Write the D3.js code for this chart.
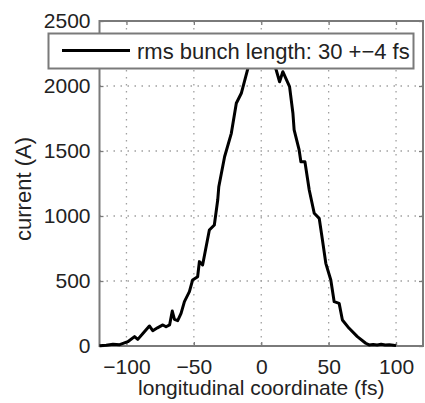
<!DOCTYPE html>
<html>
<head>
<meta charset="utf-8">
<script src="https://cdn.jsdelivr.net/npm/d3@7"></script>
<style>
  body { margin: 0; background: #fff; }
  svg { display: block; font-family: "Liberation Sans", Arial, sans-serif; }
</style>
</head>
<body>
<svg id="chart" width="425" height="403"></svg>
<script>
// longitudinal coordinate (fs) and current (A)
const coord = [-120, -115, -110, -105, -99, -94, -91.6, -86.7, -83, -80.5, -77, -73, -70.6, -68, -66, -64.4, -62,
  -59.5, -57, -53.3, -50.9, -47.2, -45.9, -43.5, -38.5, -34.8, -32.3, -31.5, -27.2, -22.2, -18.5, -14.8, -9.9,
  -7, -4, -1, 2, 5, 8, 11.1, 13.6, 16, 21, 23.5, 24.4, 28.1, 29.4, 32.4, 35.6, 39.3, 43, 45.4, 47.9, 51.6,
  54.1, 57.8, 60.2, 65.2, 71.3, 77.5, 80, 83, 86, 89, 92, 95, 98, 100];
const current = [2, 6, 14, 10, 33, 72, 51, 110, 154, 118, 140, 162, 148, 162, 269, 205, 195,
  251, 341, 418, 508, 533, 649, 623, 892, 931, 1123, 1225, 1456, 1636, 1867, 1944, 2136,
  2250, 2330, 2380, 2350, 2300, 2200, 2123, 2033, 2110, 1995, 1790, 1662, 1508, 1418, 1418, 1200, 1021, 982, 815, 636, 508,
  341, 328, 200, 136, 72, 21, 8, 12, 8, 14, 8, 10, 6, 3];

const xTicks = [-100, -50, 0, 50, 100];
const yTicks = [0, 500, 1000, 1500, 2000, 2500];
const legendLabel = 'rms bunch length: 30 +\u22124 fs';
const xTitle = 'longitudinal coordinate (fs)';
const yTitle = 'current (A)';

const pLeft = 99.5, pRight = 423, pTop = 21, pBottom = 346;

const x = d3.scaleLinear().domain([-120, 120]).range([pLeft, pRight]);
const y = d3.scaleLinear().domain([0, 2500]).range([pBottom, pTop]);

const svg = d3.select('#chart');
const axisColor = '#7a7a7a';
const fmt = d3.format('d');

// dotted grid
svg.append('g')
  .selectAll('line')
  .data(xTicks)
  .join('line')
  .attr('x1', d => x(d)).attr('x2', d => x(d))
  .attr('y1', pTop).attr('y2', pBottom)
  .attr('stroke', '#a0a0a0')
  .attr('stroke-width', 1.3)
  .attr('stroke-dasharray', '1.5,5.5');

svg.append('g')
  .selectAll('line')
  .data(yTicks.slice(1, -1))
  .join('line')
  .attr('x1', pLeft).attr('x2', pRight)
  .attr('y1', d => y(d)).attr('y2', d => y(d))
  .attr('stroke', '#a0a0a0')
  .attr('stroke-width', 1.3)
  .attr('stroke-dasharray', '1.5,5.5');

// axes, ticks pointing inward
const styleAxis = g => {
  g.select('.domain').remove();
  g.selectAll('line').attr('stroke', axisColor).attr('stroke-width', 1.3);
  g.selectAll('text')
    .attr('fill', '#222')
    .style('font-size', '21px')
    .style('font-family', '"Liberation Sans", Arial, sans-serif');
};

svg.append('g')
  .attr('transform', `translate(0,${pBottom})`)
  .call(d3.axisBottom(x).tickValues(xTicks).tickFormat(fmt).tickSizeInner(-4).tickSizeOuter(0).tickPadding(13))
  .call(styleAxis);

svg.append('g')
  .attr('transform', `translate(0,${pTop})`)
  .call(d3.axisTop(x).tickValues(xTicks).tickSizeInner(-4).tickSizeOuter(0).tickFormat(''))
  .call(styleAxis);

svg.append('g')
  .attr('transform', `translate(${pLeft},0)`)
  .call(d3.axisLeft(y).tickValues(yTicks).tickFormat(fmt).tickSizeInner(-4).tickSizeOuter(0).tickPadding(9))
  .call(styleAxis);

svg.append('g')
  .attr('transform', `translate(${pRight},0)`)
  .call(d3.axisRight(y).tickValues(yTicks).tickSizeInner(-4).tickSizeOuter(0).tickFormat(''))
  .call(styleAxis);

// plot box
svg.append('rect')
  .attr('x', pLeft).attr('y', pTop)
  .attr('width', pRight - pLeft).attr('height', pBottom - pTop)
  .attr('fill', 'none')
  .attr('stroke', axisColor)
  .attr('stroke-width', 2);

// current profile
const points = coord.map((c, i) => [c, current[i]]);
svg.append('path')
  .datum(points)
  .attr('fill', 'none')
  .attr('stroke', '#000')
  .attr('stroke-width', 3)
  .attr('stroke-linejoin', 'round')
  .attr('d', d3.line().x(d => x(d[0])).y(d => y(d[1])));

// legend
const legend = svg.append('g');
legend.append('rect')
  .attr('x', 48.5).attr('y', 33.5)
  .attr('width', 365).attr('height', 35)
  .attr('fill', '#fff')
  .attr('stroke', axisColor)
  .attr('stroke-width', 2);
legend.append('line')
  .attr('x1', 62).attr('x2', 130)
  .attr('y1', 50.5).attr('y2', 50.5)
  .attr('stroke', '#000')
  .attr('stroke-width', 3);
legend.append('text')
  .attr('x', 137).attr('y', 58.5)
  .attr('fill', '#222')
  .style('font-size', '22px')
  .text(legendLabel);

// axis titles
svg.append('text')
  .attr('x', (pLeft + pRight) / 2).attr('y', 395)
  .attr('text-anchor', 'middle')
  .attr('fill', '#222')
  .style('font-size', '21px')
  .text(xTitle);

svg.append('text')
  .attr('transform', `translate(31,189) rotate(-90)`)
  .attr('text-anchor', 'middle')
  .attr('fill', '#222')
  .style('font-size', '22px')
  .text(yTitle);
</script>
</body>
</html>
